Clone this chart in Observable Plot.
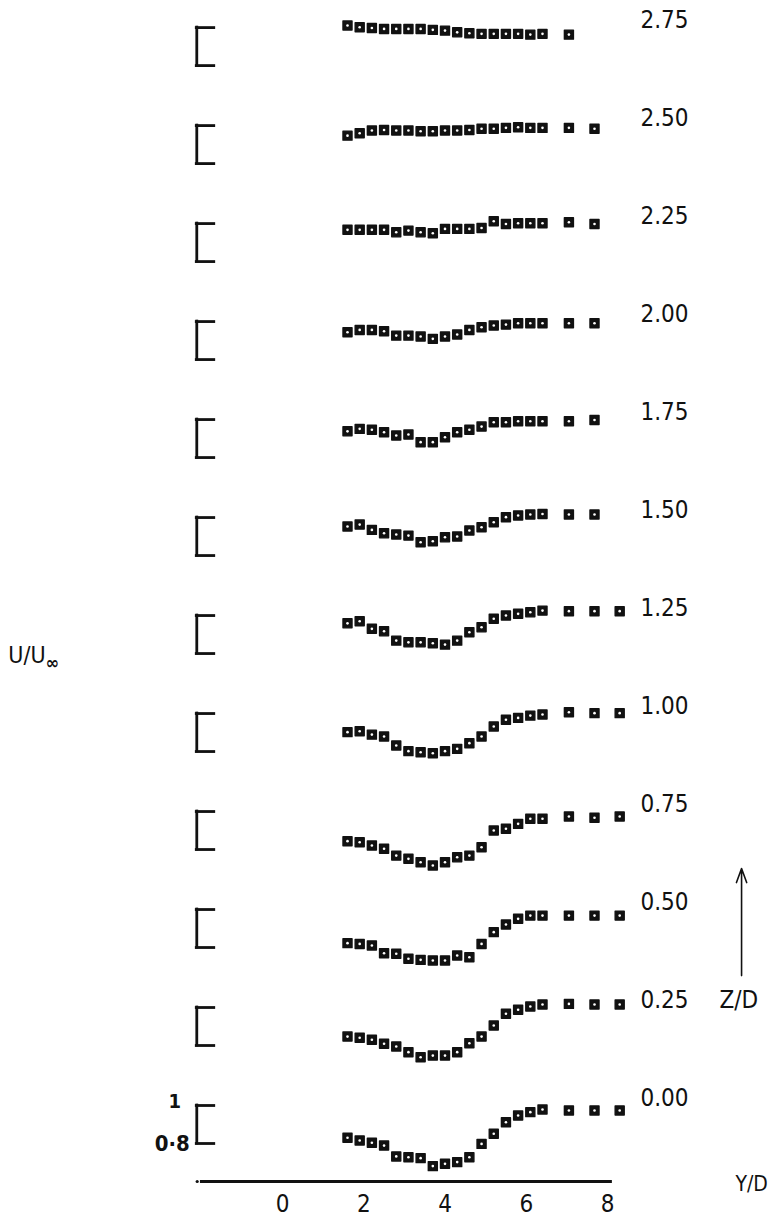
<!DOCTYPE html>
<html>
<head>
<meta charset="utf-8">
<script src="https://cdn.jsdelivr.net/npm/d3@7"></script>
<script src="https://cdn.jsdelivr.net/npm/@observablehq/plot@0.6"></script>
<style>
  html, body { margin: 0; padding: 0; background: #fff; }
  #chart svg { display: block; }
</style>
</head>
<body>
<div id="chart"></div>
<script>
// Spanwise stations (Y/D) at which U/U∞ was traversed
const ydStations = [1.6, 1.9, 2.2, 2.5, 2.8, 3.1, 3.4, 3.7, 4.0, 4.3, 4.6, 4.9, 5.2, 5.5, 5.8, 6.1, 6.4, 7.05, 7.68, 8.3];

// Heights above the floor (Z/D), one profile each
const zLevels = [0.00, 0.25, 0.50, 0.75, 1.00, 1.25, 1.50, 1.75, 2.00, 2.25, 2.50, 2.75];

// U/U∞ profiles, one array per height
const u000 = [0.830, 0.816, 0.804, 0.789, 0.732, 0.728, 0.723, 0.681, 0.693, 0.702, 0.728, 0.798, 0.851, 0.912, 0.947, 0.965, 0.979, 0.974, 0.974, 0.974];
const u025 = [0.847, 0.841, 0.830, 0.809, 0.795, 0.765, 0.738, 0.747, 0.747, 0.765, 0.812, 0.847, 0.905, 0.967, 0.988, 1.005, 1.016, 1.019, 1.016, 1.016];
const u050 = [0.823, 0.819, 0.811, 0.770, 0.767, 0.741, 0.735, 0.732, 0.732, 0.758, 0.749, 0.819, 0.881, 0.921, 0.951, 0.968, 0.968, 0.968, 0.968, 0.968];
const u075 = [0.844, 0.838, 0.821, 0.804, 0.768, 0.751, 0.733, 0.716, 0.733, 0.759, 0.768, 0.812, 0.900, 0.909, 0.935, 0.962, 0.962, 0.974, 0.967, 0.974];
const u100 = [0.902, 0.907, 0.889, 0.879, 0.832, 0.802, 0.796, 0.791, 0.802, 0.814, 0.844, 0.879, 0.932, 0.967, 0.977, 0.989, 0.995, 1.007, 1.002, 1.002];
const u125 = [0.959, 0.970, 0.930, 0.917, 0.868, 0.859, 0.859, 0.854, 0.847, 0.868, 0.912, 0.938, 0.983, 1.000, 1.009, 1.017, 1.026, 1.023, 1.023, 1.023];
const u150 = [0.953, 0.963, 0.935, 0.917, 0.911, 0.905, 0.870, 0.875, 0.896, 0.900, 0.932, 0.949, 0.975, 1.002, 1.011, 1.016, 1.019, 1.016, 1.016];
const u175 = [0.938, 0.951, 0.946, 0.933, 0.916, 0.921, 0.881, 0.881, 0.907, 0.933, 0.946, 0.963, 0.986, 0.986, 0.991, 0.991, 0.991, 0.991, 0.998];
const u200 = [0.944, 0.956, 0.956, 0.949, 0.926, 0.926, 0.921, 0.909, 0.921, 0.932, 0.956, 0.970, 0.979, 0.984, 0.991, 0.991, 0.991, 0.991, 0.991];
const u225 = [0.967, 0.967, 0.967, 0.967, 0.954, 0.963, 0.954, 0.949, 0.972, 0.972, 0.972, 0.977, 1.012, 0.998, 1.002, 1.002, 1.002, 1.007, 0.998];
const u250 = [0.947, 0.960, 0.974, 0.977, 0.974, 0.974, 0.970, 0.970, 0.974, 0.974, 0.977, 0.983, 0.983, 0.988, 0.991, 0.988, 0.988, 0.988, 0.983];
const u275 = [1.011, 1.002, 0.998, 0.993, 0.993, 0.993, 0.993, 0.988, 0.984, 0.975, 0.970, 0.967, 0.967, 0.967, 0.967, 0.963, 0.967, 0.963];

// Axis ticks and the reference scale bar shown beside every profile
const xTicks = [0, 2, 4, 6, 8];
const scaleBar = [0.8, 1.0];
const scaleBarLabels = ["0·8", "1"];

// ---------------------------------------------------------------------------
const profiles = [u000, u025, u050, u075, u100, u125, u150, u175, u200, u225, u250, u275];
const points = zLevels.flatMap((z, i) =>
  profiles[i].map((u, j) => ({z, yd: ydStations[j], u}))
);

// Profiles are stacked: each Z/D step lifts the U/U∞ origin by a fixed amount
const zLift = 2.063;                 // U/U∞ units per unit of Z/D
const stack = (z, u) => u + z * zLift;

const FONT = "'DejaVu Sans Condensed', 'Liberation Sans Narrow', 'DejaVu Sans', sans-serif";
const ink = "#111";

const yBottom = 0.6;                 // stacked value at the Y/D axis line
const barX = -2.11, barArm = -1.68;  // scale bar, in Y/D units
const labelX = 8.81;                 // Z/D value column
const sideX = 11.3;                  // Z/D arrow column

const bracketEnds = zLevels.flatMap(z => scaleBar.map(u => ({z, u})));

const chart = Plot.plot({
  width: 770,
  height: 1217,
  marginTop: 0,
  marginRight: 0,
  marginBottom: 36,
  marginLeft: 0,
  x: {domain: [0, 8], range: [282, 607]},
  y: {domain: [yBottom, 6.8158], range: [1181, 0], axis: null},
  style: {fontFamily: FONT, fontSize: "22px", color: ink, background: "#fff", overflow: "visible"},
  marks: [
    // Y/D axis
    Plot.ruleY([yBottom], {x1: -2.02, x2: 8.12, stroke: ink, strokeWidth: 3}),
    Plot.dot([yBottom], {x: -2.1, y: d => d, r: 1.6, fill: ink}),
    Plot.axisX(xTicks, {tickSize: 0, tickPadding: 13, fontSize: 24, label: null, tickFormat: d => String(d)}),
    Plot.text(["Y/D"], {x: 11.15, y: yBottom, dy: 3, text: d => d, textAnchor: "start", fontSize: 21, lineAnchor: "middle"}),

    // scale bar beside every profile
    Plot.ruleX(zLevels, {x: barX, y1: z => stack(z, scaleBar[0]), y2: z => stack(z, scaleBar[1]), stroke: ink, strokeWidth: 2.8, strokeLinecap: "square"}),
    Plot.ruleY(bracketEnds, {x1: barX, x2: barArm, y: d => stack(d.z, d.u), stroke: ink, strokeWidth: 2.8, strokeLinecap: "square"}),
    Plot.text(scaleBar, {
      filter: (d, i) => i === 0,
      x: barX, y: d => stack(0, d), dx: -7, text: () => scaleBarLabels[0],
      textAnchor: "end", fontSize: 22, fontWeight: "bold", lineAnchor: "middle"
    }),
    Plot.text(scaleBar, {
      filter: (d, i) => i === 1,
      x: barX, y: d => stack(0, d), dx: -22, dy: -4, text: () => scaleBarLabels[1],
      textAnchor: "middle", fontSize: 20, fontWeight: "bold", lineAnchor: "middle"
    }),

    // measured profiles
    Plot.dot(points, {x: "yd", y: d => stack(d.z, d.u), symbol: "square", r: 5.1, fill: ink, stroke: ink, strokeWidth: 1.4, strokeLinejoin: "round"}),
    Plot.dot(points, {x: "yd", y: d => stack(d.z, d.u), r: 1.3, fill: "#fff"}),

    // Z/D value of each profile
    Plot.text(zLevels, {x: labelX, y: z => stack(z, 1.04), text: z => z.toFixed(2), textAnchor: "start", fontSize: 24, lineAnchor: "middle"}),
    Plot.text(["Z/D"], {x: labelX, y: stack(0.25, 1.04), dx: 79, text: d => d, textAnchor: "start", fontSize: 24, lineAnchor: "middle"}),
    Plot.arrow([zLevels[1]], {x1: sideX, x2: sideX, y1: stack(0.25, 1.168), y2: stack(0.75, 0.70), stroke: ink, strokeWidth: 1.6, headLength: 14, headAngle: 40}),

    // ordinate name
    Plot.text(["U/U∞"], {x: -6.75, y: stack(1.25, 0.79), text: d => d, textAnchor: "start", fontSize: 23, lineAnchor: "middle"})
  ]
});

// set the ∞ of U/U∞ as a subscript
d3.select(chart).selectAll("text").filter(function () { return this.textContent === "U/U∞"; })
  .each(function () {
    const t = d3.select(this);
    t.text("U/U");
    t.append("tspan").attr("font-size", 18).attr("font-weight", "bold").attr("dy", "0.35em").text("∞");
  });

document.getElementById("chart").appendChild(chart);
</script>
</body>
</html>
